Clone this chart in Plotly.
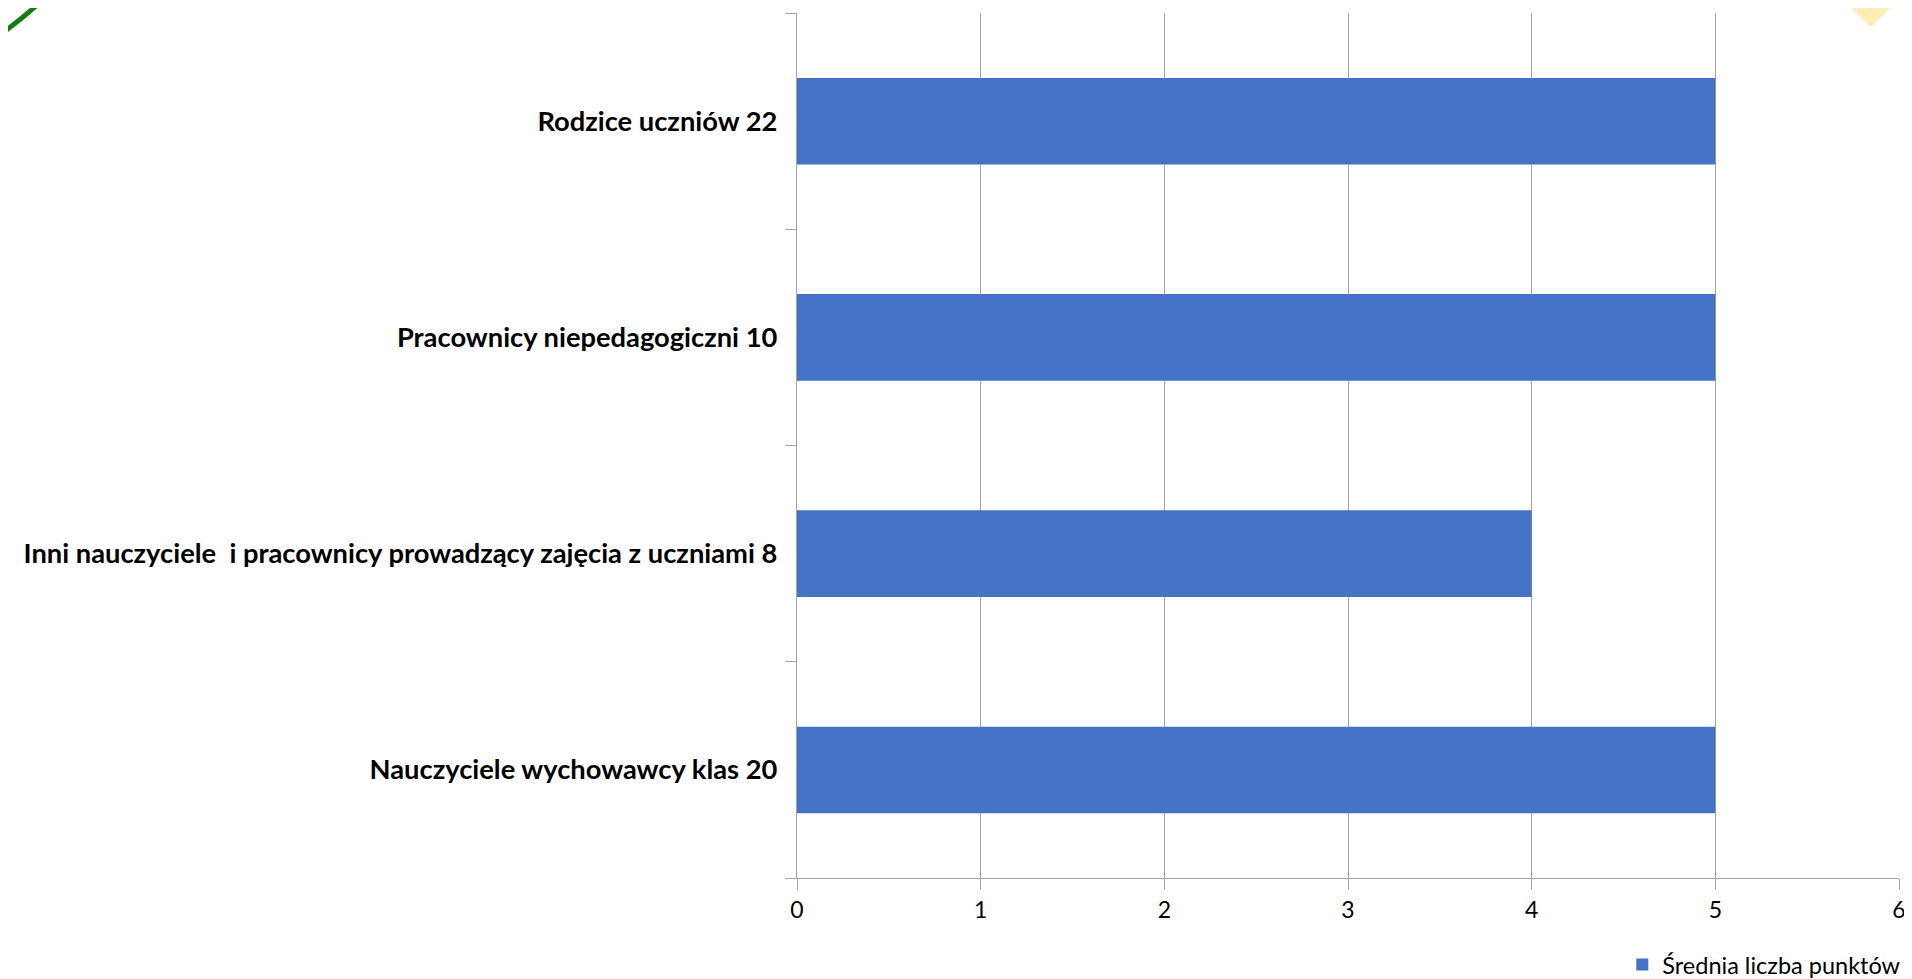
import plotly.graph_objects as go

categories = [
    "Nauczyciele wychowawcy klas 20",
    "Inni nauczyciele  i pracownicy prowadzący zajęcia z uczniami 8",
    "Pracownicy niepedagogiczni 10",
    "Rodzice uczniów 22",
]
values = [5, 4, 5, 5]
series_name = "Średnia liczba punktów"
x_ticks = [0, 1, 2, 3, 4, 5, 6]

# page body has an 8px margin, so the figure is 8px smaller on each side
W, H = 1904, 971
L, R, T, B = 789, 13, 5, 101

fig = go.Figure()
fig.add_trace(go.Bar(
    y=categories, x=values, orientation="h", name=series_name,
    marker=dict(color="#4472C4", line=dict(width=0)),
    showlegend=True,
))

grid = "#A3A3A3"
fig.update_layout(
    width=W, height=H,
    margin=dict(l=L, r=R, t=T, b=B, pad=0, autoexpand=False),
    paper_bgcolor="white", plot_bgcolor="white",
    bargap=0.6,
    font=dict(family="Lato", color="#000000"),
    showlegend=True,
    legend=dict(orientation="h", xref="container", yref="container",
                x=0.997, xanchor="right", y=0.0146, yanchor="middle",
                font=dict(family="Lato", size=23.5, color="#000000"),
                bgcolor="rgba(0,0,0,0)"),
    xaxis=dict(range=[0, 6], tickvals=x_ticks, showgrid=True, gridcolor=grid, gridwidth=1.4,
               showline=True, linecolor=grid, linewidth=1.4, zeroline=False,
               ticks="outside", ticklen=11, tickcolor=grid, tickwidth=1.4,
               tickfont=dict(family="Lato", size=23, color="#000000"), fixedrange=True),
    yaxis=dict(categoryorder="array", categoryarray=categories, showgrid=False,
               showline=True, linecolor=grid, linewidth=1.4, zeroline=False,
               ticks="outside", ticklen=11, tickcolor=grid, tickwidth=1.4,
               tickson="boundaries", ticklabelstandoff=13,
               tickfont=dict(family="Lato", size=27.3, color="#000000", weight="bold")),
    shapes=[
        # decorative green arc (slide background, top-left)
        dict(type="circle", xref="paper", yref="paper", xsizemode="pixel", ysizemode="pixel",
             xanchor=0, yanchor=1, x0=-1400, x1=-634, y0=-91, y1=675,
             line=dict(color="#137D13", width=5), fillcolor="rgba(0,0,0,0)", layer="above"),
        # decorative yellow triangle (slide background, top-right)
        dict(type="path", xref="paper", yref="paper", xsizemode="pixel", ysizemode="pixel",
             xanchor=0, yanchor=1,
             path="M 1044 15 L 1103 15 L 1074 -14 Z",
             line=dict(width=0), fillcolor="#FFEDB5", layer="above"),
    ],
)

fig.write_html("out.html")
